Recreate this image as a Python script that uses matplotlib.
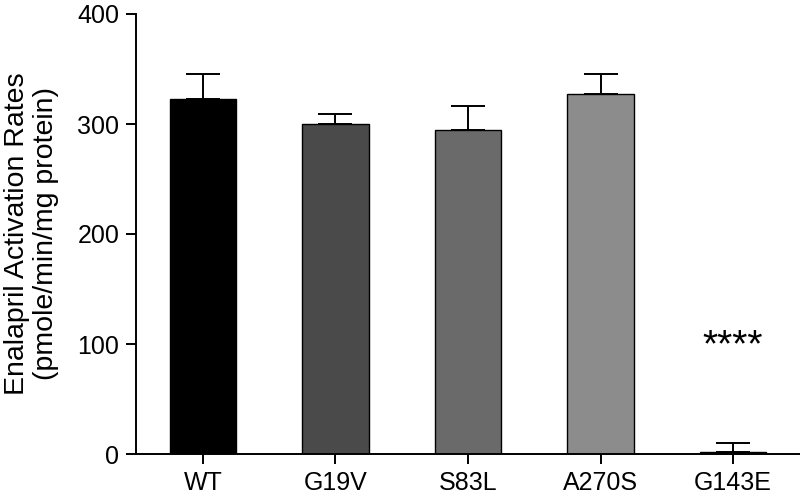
import matplotlib
matplotlib.use("Agg")
import matplotlib.pyplot as plt

categories = ["WT", "G19V", "S83L", "A270S", "G143E"]
values = [323, 300, 295, 327, 2]
errors = [22, 9, 21, 18, 8]
colors = ["#000000", "#4a4a4a", "#6a6a6a", "#8c8c8c", "#3a3a3a"]
yticks = [0, 100, 200, 300, 400]

plt.rcParams['font.family'] = ['Liberation Sans', 'DejaVu Sans']

fig = plt.figure(figsize=(8, 4.96), dpi=100)
ax = fig.add_axes([136/800, 1-454/496, 1-136/800, (454-14)/496])

x = list(range(len(categories)))
ax.bar(x, values, width=0.5, color=colors, edgecolor="black", linewidth=1.0, zorder=2)
ax.errorbar(x, values, yerr=[[0]*len(values), errors], fmt="none", ecolor="black",
            elinewidth=1.4, capsize=12, capthick=1.4, zorder=3)

ax.set_xlim(-0.505, 4.505)
ax.set_ylim(0, 400)
ax.set_yticks(yticks)
ax.set_xticks(x)
ax.set_xticklabels(categories)
ax.tick_params(axis="both", direction="out", length=7, width=1.4, labelsize=18, pad=5)
for s in ["top", "right"]:
    ax.spines[s].set_visible(False)
for s in ["left", "bottom"]:
    ax.spines[s].set_linewidth(1.4)
ax.set_ylabel("Enalapril Activation Rates\n(pmole/min/mg protein)", fontsize=20.5, labelpad=13, linespacing=1.15)

ax.text(4, 89, "****", ha="center", va="baseline", fontsize=28)

fig.savefig("out.png", dpi=100)
